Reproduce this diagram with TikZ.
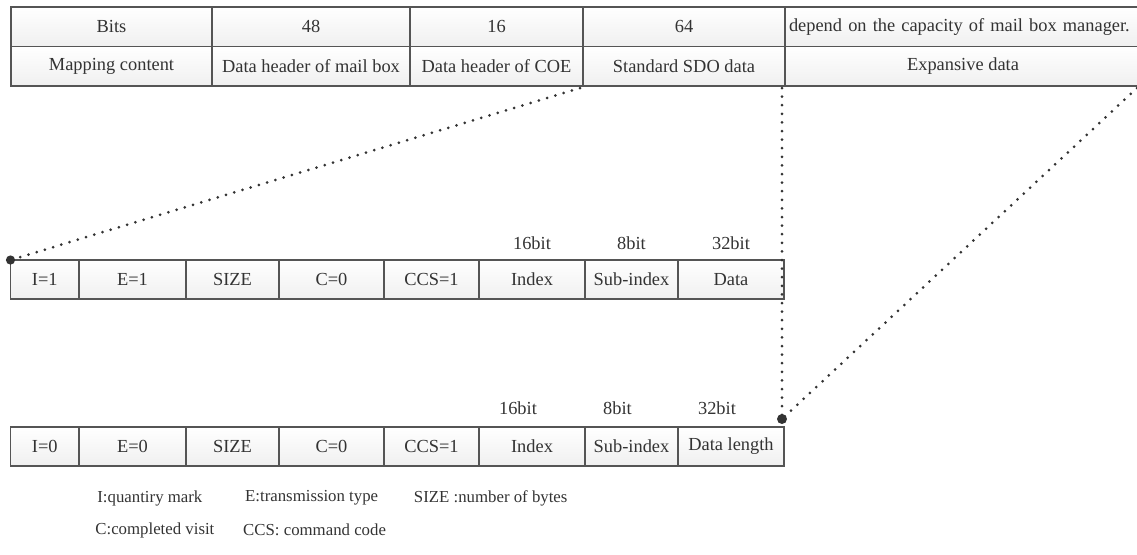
\documentclass[tikz,border=0pt]{standalone}
\usepackage{fontspec}
\setmainfont{Liberation Serif}
\usepackage{xcolor}
\usetikzlibrary{positioning,calc}

\definecolor{linegray}{HTML}{555555}
\definecolor{textgray}{HTML}{333333}

\begin{document}
\begin{tikzpicture}[x=0.5pt, y=-0.5pt,
    cell/.style={draw=linegray, line width=0.75pt, outer sep=0pt, inner sep=0pt,
                 minimum height=19.5pt, minimum width=#1, align=center,
                 top color=white, bottom color=black!6,
                 font=\fontsize{9.2}{11}\selectfont, text=textgray},
    hcell/.style={cell=#1, minimum height=19.75pt},
    bitlbl/.style={inner sep=0pt, font=\fontsize{9.2}{11}\selectfont, text=textgray},
    legend/.style={inner sep=0pt, anchor=west, font=\fontsize{8.4}{10}\selectfont, text=textgray},
    dotline/.style={draw=textgray, line width=1.5pt, line cap=round, dash pattern=on 0pt off 4.3pt},
    bigdot/.style={fill=textgray},
]
\useasboundingbox (0,0) rectangle (1137,554);

% --- Mailbox frame ---
\node[hcell=100.5pt, anchor=north west] (bits) at (11,7) {Bits};
\node[hcell=99pt, right=0pt of bits] (b48) {48};
\node[hcell=86.5pt, right=0pt of b48] (b16) {16};
\node[hcell=101pt, right=0pt of b16] (b64) {64};
\node[hcell=178pt, right=0pt of b64, align=left, text width=174pt, inner xsep=2pt] (bdep) {depend on the capacity of mail box manager.};

\node[hcell=100.5pt, below=0pt of bits] (mapc) {Mapping content};
\node[hcell=99pt, below=0pt of b48] (mbox) {Data header of mail box};
\node[hcell=86.5pt, below=0pt of b16] (coe) {Data header of COE};
\node[hcell=101pt, below=0pt of b64] (sdo) {Standard SDO data};
\node[hcell=178pt, below=0pt of bdep] (expd) {Expansive data};

% --- Expedited SDO ---
\node[cell=34.25pt, anchor=north west] (ia) at (10.5,260) {I=1};
\node[cell=53.5pt, right=0pt of ia] (ea) {E=1};
\node[cell=46.5pt, right=0pt of ea] (sza) {SIZE};
\node[cell=52.5pt, right=0pt of sza] (ca) {C=0};
\node[cell=47.5pt, right=0pt of ca] (ccsa) {CCS=1};
\node[cell=53pt, right=0pt of ccsa] (idxa) {Index};
\node[cell=46.5pt, right=0pt of idxa] (suba) {Sub-index};
\node[cell=53pt, right=0pt of suba] (data) {Data};

\node[bitlbl, above=5.2pt of idxa] {16bit};
\node[bitlbl, above=5.2pt of suba] {8bit};
\node[bitlbl, above=5.2pt of data] {32bit};

% --- Normal SDO ---
\node[cell=34.25pt, anchor=north west] (ib) at (10.5,427) {I=0};
\node[cell=53.5pt, right=0pt of ib] (eb) {E=0};
\node[cell=46.5pt, right=0pt of eb] (szb) {SIZE};
\node[cell=52.5pt, right=0pt of szb] (cb) {C=0};
\node[cell=47.5pt, right=0pt of cb] (ccsb) {CCS=1};
\node[cell=53pt, right=0pt of ccsb] (idxb) {Index};
\node[cell=46.5pt, right=0pt of idxb] (subb) {Sub-index};
\node[cell=53pt, right=0pt of subb] (datb) {Data length};

\node[bitlbl, above=6.2pt of idxb, xshift=-7pt] {16bit};
\node[bitlbl, above=6.2pt of subb, xshift=-7pt] {8bit};
\node[bitlbl, above=6.2pt of datb, xshift=-7pt] {32bit};

% --- Legend ---
\node[legend] (lgi) at (97,498) {I:quantiry mark};
\node[legend, right=21pt of lgi] (lge) {E:transmission type};
\node[legend, right=17.5pt of lge] (lgs) {SIZE :number of bytes};
\node[legend] (lgc) at (95,530) {C:completed visit};
\node[legend, right=14pt of lgc] (lgccs) {CCS: command code};

% --- Dotted leaders ---
\coordinate (dotb) at ($(datb.north east)+(-2,-8)$);
\coordinate (vtop) at ($(sdo.south east)+(-3,2)$);
\coordinate (rtop) at ($(expd.south east)+(-4,2)$);
\draw[dotline] ($(sdo.south west)+(-3,2)$) -- (ia.north west);
\draw[dotline] (vtop) -- (dotb);
\draw[dotline] (rtop) -- (dotb);
\fill[bigdot] (ia.north west) circle (2.3pt);
\fill[bigdot] (dotb) circle (2.5pt);

\end{tikzpicture}
\end{document}
